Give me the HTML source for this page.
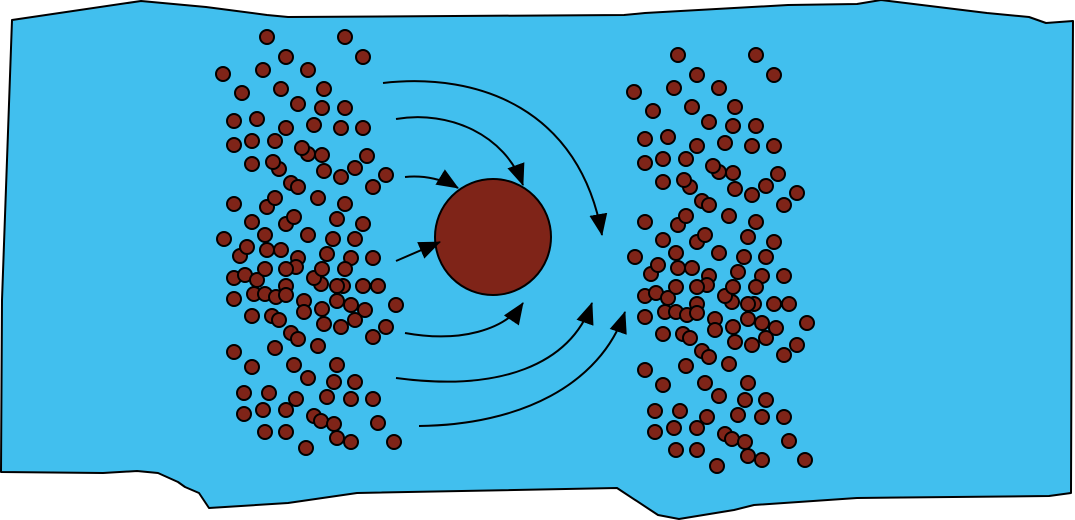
<!DOCTYPE html>
<html><head><meta charset="utf-8"><style>html,body{margin:0;padding:0;background:#fff}svg{display:block}</style></head>
<body>
<svg width="1075" height="520" viewBox="0 0 1075 520" xmlns="http://www.w3.org/2000/svg">
<defs>
<marker id="ah" markerWidth="24" markerHeight="20" refX="21" refY="9" orient="auto" markerUnits="userSpaceOnUse">
<path d="M0,0 L22,9 L0,18 Z" fill="#000"/>
</marker>
</defs>
<path d="M12,20 L141,1 L206,7 L267,15 L288,17 L624,15 L645,13 L788,5 L857,4 L881,0 L987,13 L1029,17 L1046,23 L1073,21 L1072,200 L1071,493 L1049,496 L857,498 L754,505 L734,510 L679,519 L658,515 L617,488 L357,493 L288,503 L209,508 L199,493 L185,487 L178,482 L158,473 L137,471 L103,473 L1,472 L2,300 L12,20 Z" fill="#41bfee" stroke="#000" stroke-width="2" stroke-linejoin="round"/>
<g id="L" fill="#7f2418" stroke="#000" stroke-width="2">
<circle cx="267" cy="37" r="7"/><circle cx="345" cy="37" r="7"/><circle cx="286" cy="57" r="7"/><circle cx="363" cy="57" r="7"/><circle cx="223" cy="74" r="7"/><circle cx="263" cy="70" r="7"/><circle cx="308" cy="70" r="7"/><circle cx="242" cy="93" r="7"/><circle cx="281" cy="89" r="7"/><circle cx="324" cy="89" r="7"/><circle cx="298" cy="104" r="7"/><circle cx="322" cy="108" r="7"/><circle cx="345" cy="108" r="7"/><circle cx="234" cy="121" r="7"/><circle cx="257" cy="119" r="7"/><circle cx="286" cy="128" r="7"/><circle cx="314" cy="125" r="7"/><circle cx="341" cy="128" r="7"/><circle cx="363" cy="128" r="7"/><circle cx="234" cy="145" r="7"/><circle cx="252" cy="141" r="7"/><circle cx="275" cy="141" r="7"/><circle cx="308" cy="154" r="7"/><circle cx="302" cy="148" r="7"/><circle cx="322" cy="155" r="7"/><circle cx="252" cy="164" r="7"/><circle cx="279" cy="169" r="7"/><circle cx="273" cy="162" r="7"/><circle cx="324" cy="171" r="7"/><circle cx="341" cy="177" r="7"/><circle cx="355" cy="168" r="7"/><circle cx="367" cy="156" r="7"/><circle cx="386" cy="175" r="7"/><circle cx="373" cy="187" r="7"/><circle cx="291" cy="183" r="7"/><circle cx="298" cy="187" r="7"/><circle cx="318" cy="198" r="7"/><circle cx="345" cy="204" r="7"/><circle cx="234" cy="204" r="7"/><circle cx="267" cy="207" r="7"/><circle cx="275" cy="198" r="7"/><circle cx="252" cy="222" r="7"/><circle cx="286" cy="224" r="7"/><circle cx="294" cy="217" r="7"/><circle cx="337" cy="219" r="7"/><circle cx="363" cy="224" r="7"/>
<circle cx="224" cy="239" r="7"/><circle cx="265" cy="235" r="7"/><circle cx="308" cy="235" r="7"/><circle cx="333" cy="239" r="7"/><circle cx="355" cy="239" r="7"/><circle cx="240" cy="256" r="7"/><circle cx="247" cy="247" r="7"/><circle cx="267" cy="250" r="7"/><circle cx="281" cy="250" r="7"/><circle cx="298" cy="258" r="7"/><circle cx="327" cy="254" r="7"/><circle cx="351" cy="258" r="7"/><circle cx="373" cy="258" r="7"/><circle cx="234" cy="278" r="7"/><circle cx="245" cy="275" r="7"/><circle cx="257" cy="280" r="7"/><circle cx="265" cy="269" r="7"/><circle cx="296" cy="267" r="7"/><circle cx="286" cy="269" r="7"/><circle cx="321" cy="284" r="7"/><circle cx="314" cy="278" r="7"/><circle cx="322" cy="269" r="7"/><circle cx="345" cy="269" r="7"/><circle cx="343" cy="286" r="7"/><circle cx="337" cy="286" r="7"/><circle cx="363" cy="286" r="7"/><circle cx="378" cy="286" r="7"/><circle cx="286" cy="286" r="7"/><circle cx="234" cy="299" r="7"/><circle cx="254" cy="294" r="7"/><circle cx="265" cy="294" r="7"/><circle cx="276" cy="297" r="7"/><circle cx="286" cy="295" r="7"/><circle cx="304" cy="301" r="7"/><circle cx="337" cy="301" r="7"/><circle cx="351" cy="305" r="7"/><circle cx="365" cy="310" r="7"/><circle cx="396" cy="305" r="7"/><circle cx="304" cy="312" r="7"/><circle cx="322" cy="309" r="7"/><circle cx="252" cy="316" r="7"/><circle cx="272" cy="316" r="7"/><circle cx="279" cy="320" r="7"/><circle cx="324" cy="324" r="7"/><circle cx="341" cy="327" r="7"/><circle cx="355" cy="320" r="7"/><circle cx="386" cy="327" r="7"/><circle cx="373" cy="337" r="7"/><circle cx="291" cy="333" r="7"/><circle cx="298" cy="339" r="7"/><circle cx="318" cy="346" r="7"/><circle cx="234" cy="352" r="7"/><circle cx="275" cy="348" r="7"/><circle cx="252" cy="367" r="7"/><circle cx="294" cy="365" r="7"/><circle cx="337" cy="365" r="7"/><circle cx="308" cy="378" r="7"/><circle cx="334" cy="382" r="7"/><circle cx="355" cy="382" r="7"/><circle cx="244" cy="393" r="7"/><circle cx="269" cy="393" r="7"/><circle cx="296" cy="399" r="7"/><circle cx="327" cy="397" r="7"/><circle cx="351" cy="399" r="7"/><circle cx="373" cy="399" r="7"/><circle cx="244" cy="414" r="7"/><circle cx="263" cy="410" r="7"/><circle cx="286" cy="410" r="7"/><circle cx="314" cy="416" r="7"/><circle cx="321" cy="421" r="7"/><circle cx="334" cy="424" r="7"/><circle cx="378" cy="423" r="7"/><circle cx="265" cy="432" r="7"/><circle cx="286" cy="432" r="7"/><circle cx="337" cy="438" r="7"/><circle cx="351" cy="442" r="7"/><circle cx="394" cy="442" r="7"/><circle cx="306" cy="448" r="7"/>
</g>
<use href="#L" transform="translate(411,18)"/>
<circle cx="493" cy="237" r="58" fill="#7f2418" stroke="#000" stroke-width="2"/>
<g fill="none" stroke="#000" stroke-width="2" marker-end="url(#ah)">
<path d="M383,83 C480,72 580,110 602,235"/>
<path d="M396,119 C450,110 505,135 523,185"/>
<path d="M405,177 C425,175 445,180 458,188"/>
<path d="M396,261 L440,242"/>
<path d="M405,333 C460,343 505,330 523,303"/>
<path d="M396,378 C500,392 570,365 592,303"/>
<path d="M419,426 C520,425 600,385 625,312"/>
</g>
</svg>
</body></html>
